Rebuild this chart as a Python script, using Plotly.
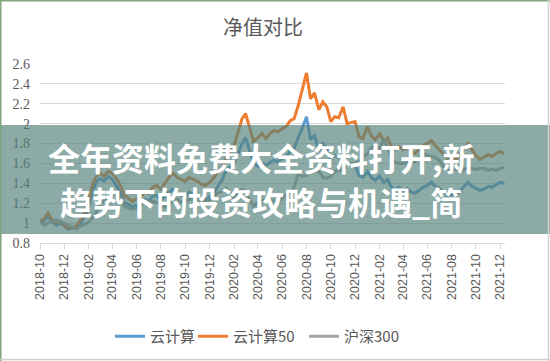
import pandas as pd
import plotly.graph_objects as go

# ---- data (3 samples per month: day 1, 11, 21) ----
cloud = [
    1.00, 1.02, 1.07,  1.01, 0.98, 1.00,  0.97, 0.94, 0.95,
    0.95, 1.00, 1.06,  1.18, 1.33, 1.42,  1.45, 1.42, 1.47,  1.44, 1.38, 1.31,
    1.21, 1.19, 1.16,  1.18, 1.20, 1.24,  1.22, 1.27, 1.28,  1.23, 1.27, 1.31,
    1.34, 1.30, 1.28,  1.27, 1.31, 1.29,  1.28, 1.25, 1.24,  1.26, 1.30, 1.36,
    1.43, 1.52, 1.56,  1.60, 1.70, 1.80,  1.86, 1.72, 1.60,  1.57, 1.60, 1.58,
    1.61, 1.63, 1.62,  1.65, 1.67, 1.72,  1.75, 1.86, 1.95,  2.07, 1.84, 1.88,
    1.74, 1.80, 1.75,  1.64, 1.68, 1.66,  1.74, 1.60, 1.59,  1.58, 1.48, 1.46,
    1.52, 1.46, 1.43,  1.47, 1.41, 1.44,  1.37, 1.33, 1.36,  1.33, 1.35, 1.31,
    1.30, 1.33, 1.36,  1.38, 1.41, 1.37,  1.35, 1.31, 1.27,  1.29, 1.28, 1.32,
    1.37, 1.41, 1.37,  1.35, 1.33, 1.34,  1.37, 1.36, 1.39,  1.41, 1.40,
]
cloud50 = [
    1.02, 1.04, 1.10,  1.03, 1.00, 1.02,  0.98, 0.95, 0.96,
    0.97, 1.03, 1.10,  1.25, 1.40, 1.48,  1.50, 1.47, 1.52,  1.50, 1.45, 1.38,
    1.28, 1.25, 1.22,  1.24, 1.27, 1.31,  1.30, 1.36, 1.38,  1.34, 1.40, 1.46,
    1.50, 1.46, 1.44,  1.42, 1.46, 1.44,  1.42, 1.39, 1.38,  1.41, 1.45, 1.52,
    1.55, 1.65, 1.72,  1.78, 1.92, 2.05,  2.10, 1.95, 1.82,  1.86, 1.90, 1.85,
    1.90, 1.93, 1.92,  1.95, 1.97, 2.03,  2.05, 2.18, 2.35,  2.51, 2.25, 2.31,
    2.14, 2.22, 2.17,  2.02, 2.07, 2.06,  2.17, 2.00, 2.01,  2.02, 1.87, 1.85,
    1.97, 1.88, 1.84,  1.90, 1.82, 1.86,  1.78, 1.74, 1.77,  1.74, 1.76, 1.72,
    1.70, 1.74, 1.78,  1.80, 1.83, 1.78,  1.74, 1.70, 1.65,  1.67, 1.63, 1.68,
    1.76, 1.80, 1.74,  1.68, 1.64, 1.66,  1.69, 1.67, 1.70,  1.72, 1.70,
]
hs300 = [
    1.02, 0.98, 1.00,  1.02, 1.03, 1.01,  1.00, 0.98, 0.96,
    0.94, 0.97, 0.99,  1.01, 1.06, 1.12,  1.20, 1.22, 1.24,  1.28, 1.30, 1.26,
    1.17, 1.15, 1.14,  1.15, 1.18, 1.21,  1.21, 1.22, 1.21,  1.17, 1.16, 1.19,
    1.22, 1.24, 1.21,  1.22, 1.24, 1.24,  1.24, 1.23, 1.21,  1.23, 1.26, 1.30,
    1.32, 1.35, 1.31,  1.24, 1.31, 1.34,  1.31, 1.24, 1.17,  1.21, 1.23, 1.24,
    1.24, 1.22, 1.22,  1.25, 1.28, 1.30,  1.36, 1.50, 1.47,  1.48, 1.51, 1.52,
    1.52, 1.46, 1.45,  1.47, 1.52, 1.53,  1.54, 1.58, 1.60,  1.60, 1.62, 1.66,
    1.70, 1.76, 1.77,  1.74, 1.84, 1.76,  1.66, 1.61, 1.60,  1.60, 1.61, 1.62,
    1.62, 1.66, 1.70,  1.68, 1.67, 1.66,  1.63, 1.57, 1.53,  1.53, 1.54, 1.51,
    1.54, 1.56, 1.55,  1.54, 1.55, 1.55,  1.53, 1.54, 1.53,  1.55, 1.56,
]
series_names = ["云计算", "云计算50", "沪深300"]
series_colors = ["#5B9BD5", "#ED7D31", "#A5A5A5"]
title_text = "净值对比"
overlay_lines = ["全年资料免费大全资料打开,新", "趋势下的投资攻略与机遇_简"]

months = pd.date_range("2018-10-01", "2021-12-01", freq="MS")
all_dates = [m + pd.Timedelta(days=d) for m in months for d in (0, 10, 20)]
dates = all_dates[:len(cloud)]

# ---- figure ----
W, H = 550, 361
L, R, T, B = 40, 45, 64, 118
pw, ph = W - L - R, H - T - B


def px(x):
    return (x - L) / pw


def py(y):
    return (H - B - y) / ph


grey = "#595959"
legend_ids = ["legend", "legend2", "legend3"]
legend_x = [110, 193, 304]

fig = go.Figure()
for name, vals, col, lid in zip(series_names, [cloud, cloud50, hs300],
                                series_colors, legend_ids):
    fig.add_trace(go.Scatter(x=dates, y=vals, mode="lines", name=name, legend=lid,
                             line=dict(color=col, width=3)))

legend_common = dict(orientation="h", xanchor="left", y=py(320), yanchor="top",
                     font=dict(family="Noto Sans CJK SC", size=15, color=grey),
                     itemwidth=30, bgcolor="rgba(0,0,0,0)")

fig.update_layout(
    width=W, height=H,
    margin=dict(l=L, r=R, t=T, b=B, autoexpand=False),
    paper_bgcolor="white", plot_bgcolor="white",
    showlegend=True,
    legend=dict(x=px(legend_x[0]), **legend_common),
    legend2=dict(x=px(legend_x[1]), **legend_common),
    legend3=dict(x=px(legend_x[2]), **legend_common),
    xaxis=dict(type="date", range=["2018-10-01", "2021-12-13"], automargin=False,
               tick0="2018-10-01", dtick="M2", tickformat="%Y-%m", tickangle=-90,
               showgrid=False, showline=True, linecolor="#D9D9D9", linewidth=1,
               ticks="outside", ticklen=5, tickcolor="#D9D9D9",
               tickfont=dict(family="Liberation Sans", size=12.5, color=grey),
               zeroline=False),
    yaxis=dict(range=[0.8, 2.6], dtick=0.2, tick0=0.8, showgrid=True, automargin=False,
               gridcolor="#D9D9D9", gridwidth=1, zeroline=False, showline=False,
               ticks="", ticklabelstandoff=9,
               tickfont=dict(family="Liberation Serif", size=14, color=grey)),
)

# title
fig.add_annotation(text=title_text, xref="paper", yref="paper", x=px(263), y=py(27),
                   xanchor="center", yanchor="middle", showarrow=False,
                   font=dict(family="Noto Sans CJK SC", size=20, color=grey))

# overlay band
fig.add_shape(type="rect", xref="paper", yref="paper",
              x0=px(0), x1=px(W), y0=py(234), y1=py(125),
              fillcolor="rgba(86,130,124,0.68)", line=dict(width=0), layer="above")
for txt, yc in zip(overlay_lines, [157, 201]):
    fig.add_annotation(text=txt, xref="paper", yref="paper", x=px(261), y=py(yc),
                       xanchor="center", yanchor="middle", showarrow=False,
                       font=dict(family="Noto Sans CJK SC", size=32, color="white",
                                 weight="bold"))

# frame
fig.add_shape(type="line", xref="paper", yref="paper", x0=px(0.75), x1=px(0.75),
              y0=py(0), y1=py(H), line=dict(color="#7FA67F", width=1.5), layer="above")
fig.add_shape(type="line", xref="paper", yref="paper", x0=px(0), x1=px(W),
              y0=py(0.75), y1=py(0.75), line=dict(color="#7FA67F", width=1.5), layer="above")
fig.add_shape(type="line", xref="paper", yref="paper", x0=px(W - 1.5), x1=px(W - 1.5),
              y0=py(0), y1=py(H), line=dict(color="#D0D0D0", width=1.5), layer="above")
fig.add_shape(type="line", xref="paper", yref="paper", x0=px(0), x1=px(W),
              y0=py(H - 1.5), y1=py(H - 1.5), line=dict(color="#D0D0D0", width=1.5), layer="above")

fig.write_html("out.html", config={"displayModeBar": False},
               post_script="document.body.style.margin='0';")
